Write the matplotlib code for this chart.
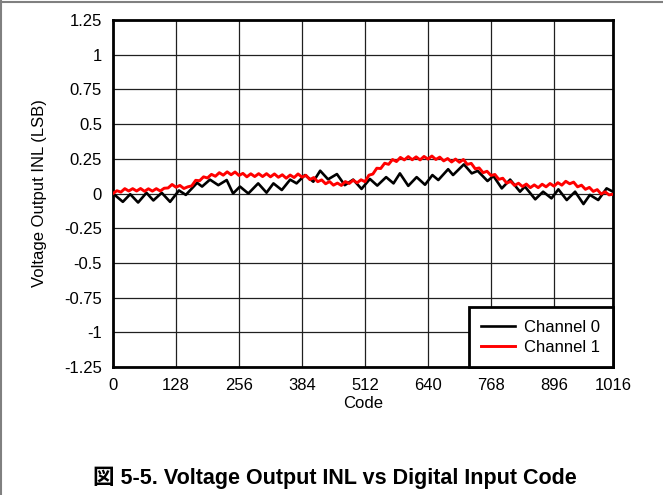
import numpy as np
from matplotlib import pyplot as plt
from matplotlib.lines import Line2D

plt.rcParams['font.family'] = ['Liberation Sans', 'Noto Sans CJK JP', 'DejaVu Sans']

# channel 0: vertices of the zigzag
ch0_code = [0, 20, 35, 51, 68, 82, 99, 116, 134, 148, 171, 181, 197, 214, 231,
            244, 258, 275, 295, 312, 326, 343, 360, 373, 390, 407, 421, 437,
            455, 471, 488, 505, 522, 537, 555, 570, 583, 600, 617, 634, 649,
            661, 681, 691, 713, 729, 741, 761, 773, 790, 807, 827, 837, 858,
            874, 891, 905, 922, 939, 956, 969, 986, 1003, 1016]
ch0_inl = [0.0, -0.06, -0.005, -0.065, 0.005, -0.05, 0.005, -0.06, 0.022,
           -0.01, 0.077, 0.05, 0.1, 0.06, 0.097, 0.0, 0.05, 0.0, 0.073, 0.006,
           0.073, 0.025, 0.1, 0.073, 0.133, 0.085, 0.164, 0.102, 0.14, 0.06,
           0.1, 0.033, 0.105, 0.057, 0.118, 0.073, 0.145, 0.055, 0.118, 0.063,
           0.133, 0.097, 0.175, 0.133, 0.21, 0.145, 0.163, 0.09, 0.126, 0.037,
           0.1, 0.013, 0.05, -0.042, 0.013, -0.035, 0.03, -0.047, 0.013,
           -0.076, -0.01, -0.047, 0.037, 0.013]

# channel 1: every 8 codes
ch1_code = list(range(0, 1017, 8))
ch1_inl = [0.000, 0.020, 0.010, 0.035, 0.018, 0.035, 0.018, 0.036, 0.016, 0.034,
           0.017, 0.035, 0.018, 0.038, 0.040, 0.065, 0.045, 0.058, 0.036, 0.048,
           0.055, 0.095, 0.092, 0.120, 0.112, 0.138, 0.124, 0.150, 0.132, 0.156,
           0.135, 0.155, 0.130, 0.145, 0.120, 0.142, 0.122, 0.143, 0.122, 0.143,
           0.120, 0.141, 0.117, 0.135, 0.110, 0.133, 0.115, 0.141, 0.118, 0.131,
           0.100, 0.115, 0.085, 0.098, 0.070, 0.086, 0.060, 0.075, 0.058, 0.086,
           0.072, 0.096, 0.077, 0.099, 0.085, 0.132, 0.140, 0.182, 0.180, 0.218,
           0.210, 0.245, 0.230, 0.260, 0.242, 0.266, 0.243, 0.264, 0.242, 0.267,
           0.248, 0.270, 0.245, 0.262, 0.235, 0.252, 0.227, 0.248, 0.225, 0.245,
           0.210, 0.217, 0.178, 0.184, 0.150, 0.160, 0.130, 0.137, 0.102, 0.110,
           0.075, 0.087, 0.058, 0.074, 0.050, 0.068, 0.042, 0.062, 0.042, 0.067,
           0.048, 0.072, 0.053, 0.078, 0.060, 0.088, 0.070, 0.082, 0.048, 0.060,
           0.030, 0.044, 0.015, 0.028, -0.004, 0.012, -0.010, -0.005]

xticks = [0, 128, 256, 384, 512, 640, 768, 896, 1016]
yticks = [-1.25, -1, -0.75, -0.5, -0.25, 0, 0.25, 0.5, 0.75, 1, 1.25]
ytick_labels = ['-1.25', '-1', '-0.75', '-0.5', '-0.25', '0', '0.25', '0.5',
                '0.75', '1', '1.25']

fig = plt.figure(figsize=(6.63, 4.95), dpi=100)
ax = fig.add_axes([113/663, 1-367/495, 500/663, 347/495])

ax.plot(ch0_code, ch0_inl, color='black', lw=1.9, label='Channel 0', zorder=3)
ax.plot(ch1_code, ch1_inl, color='#ff0000', lw=2.1, label='Channel 1', zorder=4)

ax.set_xlim(0, 1016)
ax.set_ylim(-1.25, 1.25)
ax.set_xticks(xticks)
ax.set_yticks(yticks)
ax.set_yticklabels(ytick_labels)
ax.tick_params(length=0, labelsize=12, pad=8)
ax.grid(True, color='#202020', lw=0.9)
ax.set_axisbelow(True)
for s in ax.spines.values():
    s.set_linewidth(2)

ax.set_xlabel('Code', fontsize=12)
ax.set_ylabel('Voltage Output INL (LSB)', fontsize=12)
ax.xaxis.set_label_coords(0.5, -0.085)
ax.yaxis.set_label_coords(-0.132, 0.5)

leg = ax.legend(loc='lower right', borderaxespad=0, fancybox=False,
                edgecolor='black', framealpha=1, fontsize=12,
                handlelength=2.0, handletextpad=0.6, labelspacing=0.3,
                borderpad=0.75)
leg.get_frame().set_linewidth(2)
leg.set_zorder(5)

fig.text(0.505, 1-478/495, '図 5-5. Voltage Output INL vs Digital Input Code',
         ha='center', va='center', fontsize=15.5, fontweight='bold')

# page border (top and left)
fig.add_artist(Line2D([0, 1], [1-2/495, 1-2/495], color='#808080', lw=1.5))
fig.add_artist(Line2D([0.8/663, 0.8/663], [0, 1], color='#808080', lw=1.5))

plt.savefig('out.png', dpi=100)
